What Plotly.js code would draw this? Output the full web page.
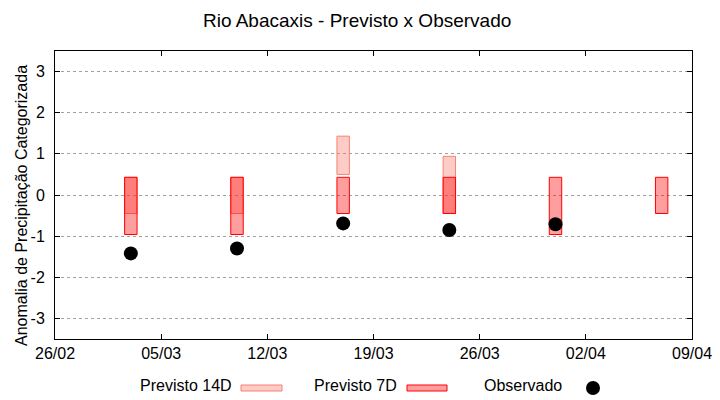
<!DOCTYPE html>
<html>
<head>
<meta charset="utf-8">
<script src="https://cdn.plot.ly/plotly-3.0.1.min.js"></script>
<style>html,body{margin:0;padding:0;background:#fff;}#chart{width:720px;height:400px;}</style>
</head>
<body>
<div id="chart"></div>
<script>
// ---- data ----
var dates    = ['2025-03-03','2025-03-10','2025-03-17','2025-03-24','2025-03-31','2025-04-07'];
var p14Low   = [-0.45, -0.45, 0.50, -0.45, null, null];
var p14High  = [ 0.43,  0.43, 1.43,  0.94, null, null];
var p7Low    = [-0.96, -0.96, -0.45, -0.45, -0.96, -0.45];
var p7High   = [ 0.43,  0.43,  0.43,  0.43,  0.43,  0.43];
var observed = [-1.42, -1.30, -0.69, -0.85, -0.71, null];
var yTicks   = [-3, -2, -1, 0, 1, 2, 3];
var legendLabels = ['Previsto 14D', 'Previsto 7D', 'Observado'];
var titleText = 'Rio Abacaxis - Previsto x Observado';
var yTitleText = 'Anomalia de Precipitação Categorizada';

// ---- styling / layout helpers ----
var DAY = 86400000;
var barW = 0.82 * DAY;
var FONT = 'Liberation Sans, Arial, sans-serif';
var M = {l:55, r:28, t:51, b:61};
var PW = 720 - M.l - M.r, PH = 400 - M.t - M.b;
function px(x){ return (x - M.l) / PW; }
function py(y){ return (400 - M.b - y) / PH; }

function span(lo, hi){ return lo.map(function(v,i){ return (v===null||hi[i]===null) ? null : hi[i]-v; }); }

var c14Fill = 'rgba(250,128,114,0.4)', c14Line = 'rgb(250,128,114)';
var c7Fill  = 'rgba(255,0,0,0.38)',   c7Line  = 'rgb(255,0,0)';

var traces = [
  {type:'bar', name:legendLabels[0], x:dates, base:p14Low, y:span(p14Low,p14High), width:barW,
   marker:{color:c14Fill, line:{color:c14Line, width:1}}, showlegend:false, hoverinfo:'skip'},
  {type:'bar', name:legendLabels[1], x:dates, base:p7Low, y:span(p7Low,p7High), width:barW,
   marker:{color:c7Fill, line:{color:c7Line, width:1}}, showlegend:false, hoverinfo:'skip'},
  {type:'scatter', mode:'markers', name:legendLabels[2], x:dates, y:observed,
   marker:{color:'#000', size:14, symbol:'circle'}, showlegend:false, hoverinfo:'skip'}
];

var annotations = [
  {text:yTitleText, xref:'paper', yref:'paper', x:px(21), y:py(206), textangle:-90,
   showarrow:false, xanchor:'center', yanchor:'middle', font:{family:FONT, size:16, color:'#000'}},
  {text:legendLabels[0], xref:'paper', yref:'paper', x:px(234), y:py(385), showarrow:false,
   xanchor:'right', yanchor:'middle', font:{family:FONT, size:16, color:'#000'}},
  {text:legendLabels[1], xref:'paper', yref:'paper', x:px(399), y:py(385), showarrow:false,
   xanchor:'right', yanchor:'middle', font:{family:FONT, size:16, color:'#000'}},
  {text:legendLabels[2], xref:'paper', yref:'paper', x:px(564), y:py(385), showarrow:false,
   xanchor:'right', yanchor:'middle', font:{family:FONT, size:16, color:'#000'}}
];

var shapes = [
  {type:'rect', xref:'paper', yref:'paper', x0:px(241), x1:px(282), y0:py(385), y1:py(391),
   fillcolor:c14Fill, line:{color:c14Line, width:1}},
  {type:'rect', xref:'paper', yref:'paper', x0:px(407), x1:px(447), y0:py(385), y1:py(391),
   fillcolor:c7Fill, line:{color:c7Line, width:1}},
  {type:'circle', xref:'paper', yref:'paper', x0:px(586), x1:px(600), y0:py(381), y1:py(395),
   fillcolor:'#000', line:{color:'#000', width:0}}
];

var layout = {
  width:720, height:400,
  margin:M,
  paper_bgcolor:'#fff', plot_bgcolor:'#fff',
  barmode:'overlay',
  showlegend:false,
  title:{text:titleText, x:0.496, xref:'container', xanchor:'center', y:0.95, yref:'container', yanchor:'middle',
         font:{family:FONT, size:19, color:'#000'}},
  font:{family:FONT, size:16, color:'#000'},
  xaxis:{type:'date', range:['2025-02-26','2025-04-09'], tick0:'2025-02-26', dtick:7*DAY, tickformat:'%d/%m',
         showgrid:false, zeroline:false, showline:true, linecolor:'#000', linewidth:1, mirror:'ticks',
         ticks:'inside', ticklen:5, tickcolor:'#000', tickfont:{family:FONT, size:16, color:'#000'}},
  yaxis:{range:[-3.5,3.5], tickvals:yTicks, ticktext:yTicks.map(String),
         showgrid:true, gridcolor:'#a0a0a0', griddash:'dot', gridwidth:1, zeroline:false,
         showline:true, linecolor:'#000', linewidth:1, mirror:'ticks',
         ticks:'inside', ticklen:5, tickcolor:'#000', ticklabelstandoff:6,
         tickfont:{family:FONT, size:16, color:'#000'}},
  annotations:annotations,
  shapes:shapes
};

Plotly.newPlot('chart', traces, layout, {staticPlot:true, displayModeBar:false});
</script>
</body>
</html>
